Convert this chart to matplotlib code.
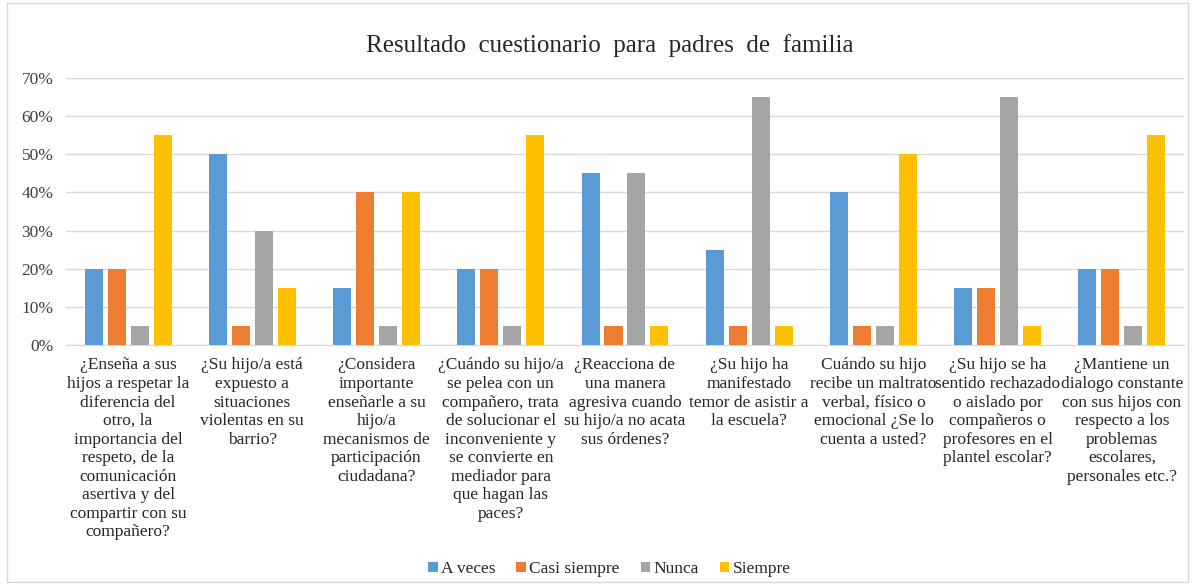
import matplotlib
matplotlib.use("Agg")
import matplotlib.pyplot as plt
import numpy as np
from matplotlib.patches import Rectangle

categories = [
    "¿Enseña a sus\nhijos a respetar la\ndiferencia del\notro, la\nimportancia del\nrespeto, de la\ncomunicación\nasertiva y del\ncompartir con su\ncompañero?",
    "¿Su hijo/a está\nexpuesto a\nsituaciones\nviolentas en su\nbarrio?",
    "¿Considera\nimportante\nenseñarle a su\nhijo/a\nmecanismos de\nparticipación\nciudadana?",
    "¿Cuándo su hijo/a\nse pelea con un\ncompañero, trata\nde solucionar el\ninconveniente y\nse convierte en\nmediador para\nque hagan las\npaces?",
    "¿Reacciona de\nuna manera\nagresiva cuando\nsu hijo/a no acata\nsus órdenes?",
    "¿Su hijo ha\nmanifestado\ntemor de asistir a\nla escuela?",
    "Cuándo su hijo\nrecibe un maltrato\nverbal, físico o\nemocional ¿Se lo\ncuenta a usted?",
    "¿Su hijo se ha\nsentido rechazado\no aislado por\ncompañeros o\nprofesores en el\nplantel escolar?",
    "¿Mantiene un\ndialogo constante\ncon sus hijos con\nrespecto a los\nproblemas\nescolares,\npersonales etc.?",
]
a_veces = [20, 50, 15, 20, 45, 25, 40, 15, 20]
casi_siempre = [20, 5, 40, 20, 5, 5, 5, 15, 20]
nunca = [5, 30, 5, 5, 45, 65, 5, 65, 5]
siempre = [55, 15, 40, 55, 5, 5, 50, 5, 55]
series_names = ["A veces", "Casi siempre", "Nunca", "Siempre"]
colors = ["#5B9BD5", "#ED7D31", "#A5A5A5", "#FFC000"]

plt.rcParams['font.family'] = ['Liberation Serif', 'DejaVu Serif']

fig = plt.figure(figsize=(11.95, 5.85), dpi=100)
ax = fig.add_axes([0.0552, 0.4103, 0.9356, 0.4564])

x = np.arange(len(categories))
width = 0.145
step = 0.185
for i, (vals, name, c) in enumerate(zip([a_veces, casi_siempre, nunca, siempre], series_names, colors)):
    ax.bar(x + (i - 1.5) * step, vals, width, color=c, label=name, zorder=3)

ax.set_xlim(-0.5, len(categories) - 0.5)
ax.set_ylim(0, 70)
ax.set_yticks(range(0, 71, 10))
ax.set_yticklabels([f"{v}%" for v in range(0, 71, 10)], fontsize=12.5, color="#404040")
ax.set_xticks(x)
ax.set_xticklabels(categories, fontsize=12.5, color="#262626", linespacing=1.21)
ax.tick_params(axis='both', length=0)
ax.tick_params(axis='x', pad=9)
ax.tick_params(axis='y', pad=9)
ax.grid(axis='y', color="#D9D9D9", linewidth=1, zorder=0)
for s in ['top', 'right', 'left']:
    ax.spines[s].set_visible(False)
ax.spines['bottom'].set_color("#D9D9D9")

fig.text(0.51, 0.922, "Resultado  cuestionario  para  padres  de  familia", ha='center', va='center',
         fontsize=18, color="#262626")

fig.legend(loc='lower center', bbox_to_anchor=(0.51, -0.013), ncol=4, frameon=False, fontsize=12.5,
           handlelength=0.55, handleheight=0.55, handletextpad=0.2, columnspacing=1.2,
           labelcolor="#262626")

fig.patches.append(Rectangle((0.006, 0.005), 0.988, 0.99, transform=fig.transFigure,
                             fill=False, edgecolor="#D9D9D9", linewidth=1))

fig.savefig("out.png", dpi=100)
